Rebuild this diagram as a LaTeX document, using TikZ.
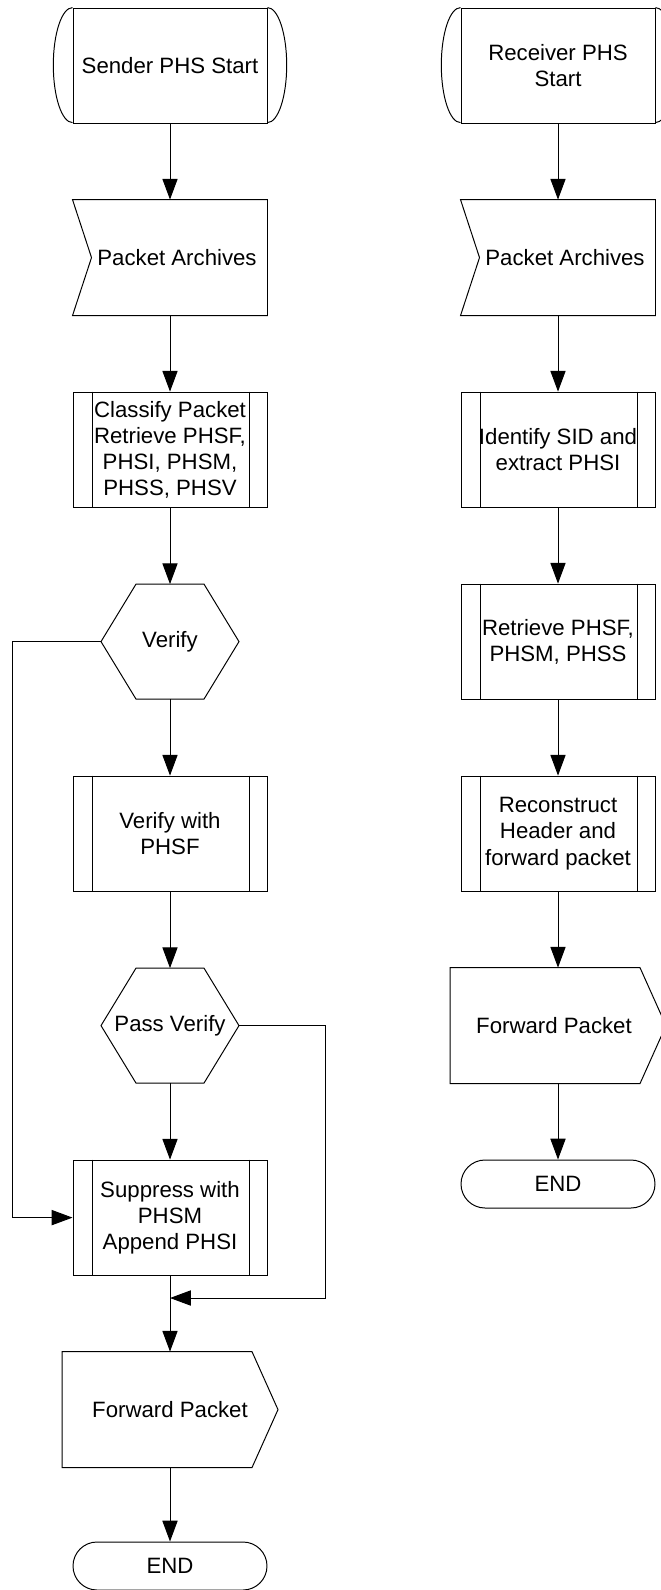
\documentclass[tikz,border=0pt]{standalone}
\usepackage{fontspec}
\setmainfont{Liberation Sans}
\usetikzlibrary{arrows.meta}

\begin{document}
\begin{tikzpicture}[
  line width=0.7pt,
  every node/.style={font=\fontsize{15.8}{18.6}\selectfont, align=center, inner sep=0pt},
  proc/.style={draw, minimum width=4.85cm, minimum height=2.875cm},
  plain/.style={minimum width=4.85cm, minimum height=2.875cm},
  hexa/.style={minimum width=3.425cm, minimum height=2.85cm},
  fwdbox/.style={minimum width=5.375cm, minimum height=2.875cm},
  stopbox/.style={draw, rounded corners=0.6cm, minimum width=4.85cm, minimum height=1.2cm},
  arr/.style={-{Triangle[length=0.52cm,width=0.38cm]}}
]
\useasboundingbox (0,0) rectangle (16.5,-39.75);

% Sender side
\node[proc] (sst) at (4.25,-1.64) {Sender PHS Start};
\node[plain] (spa) at (4.25,-6.44) {\hspace*{0.35cm}Packet Archives};
\node[proc] (cls) at (4.25,-11.24) {Classify Packet\\Retrieve PHSF,\\PHSI, PHSM,\\PHSS, PHSV};
\node[hexa] (ver) at (4.25,-16.04) {Verify};
\node[proc] (vph) at (4.25,-20.84) {Verify with\\PHSF};
\node[hexa] (pas) at (4.25,-25.64) {Pass Verify};
\node[proc] (sup) at (4.25,-30.44) {Suppress with\\PHSM\\Append PHSI};
\node[fwdbox] (sfw) at (4.25,-35.24) {Forward Packet};
\node[stopbox] (send) at (4.25,-39.15) {END};

% Receiver side
\node[proc] (rst) at (13.95,-1.64) {Receiver PHS\\Start};
\node[plain] (rpa) at (13.95,-6.44) {\hspace*{0.35cm}Packet Archives};
\node[proc] (ids) at (13.95,-11.24) {Identify SID and\\extract PHSI};
\node[proc] (ret) at (13.95,-16.04) {Retrieve PHSF,\\PHSM, PHSS};
\node[proc] (rec) at (13.95,-20.84) {Reconstruct\\Header and\\forward packet};
\node[fwdbox] (rfw) at (13.95,-25.64) {Forward Packet\hspace*{0.2cm}};
\node[stopbox] (rend) at (13.95,-29.6) {END};

% start terminals
\foreach \n in {sst,rst}{
  \draw (\n.north west) arc[start angle=90, end angle=270, x radius=0.48cm, y radius=1.4375cm];
  \draw (\n.north east) arc[start angle=90, end angle=-90, x radius=0.48cm, y radius=1.4375cm];
}

% archives
\foreach \n in {spa,rpa}{
  \draw (\n.north west) -- (\n.north east) -- (\n.south east) -- (\n.south west) -- ([xshift=0.475cm]\n.west) -- cycle;
}

% predefined process bars
\foreach \n in {cls,vph,sup,ids,ret,rec}{
  \draw ([xshift=0.5cm]\n.north west) -- ([xshift=0.5cm]\n.south west);
  \draw ([xshift=-0.45cm]\n.north east) -- ([xshift=-0.45cm]\n.south east);
}

% decisions
\foreach \n in {ver,pas}{
  \draw (\n.west) -- ([xshift=0.875cm]\n.north west) -- ([xshift=-0.875cm]\n.north east) -- (\n.east)
    -- ([xshift=-0.875cm]\n.south east) -- ([xshift=0.875cm]\n.south west) -- cycle;
}

% forward packet
\foreach \n in {sfw,rfw}{
  \draw (\n.north west) -- ([xshift=-0.65cm]\n.north east) -- (\n.east) -- ([xshift=-0.65cm]\n.south east) -- (\n.south west) -- cycle;
}

% arrows
\draw[arr] (sst) -- (spa);
\draw[arr] (spa) -- (cls);
\draw[arr] (cls) -- (ver);
\draw[arr] (ver) -- (vph);
\draw[arr] (vph) -- (pas);
\draw[arr] (pas) -- (sup);
\draw[arr] (sup) -- (sfw);
\draw[arr] (sfw) -- (send);

\draw[arr] (rst) -- (rpa);
\draw[arr] (rpa) -- (ids);
\draw[arr] (ids) -- (ret);
\draw[arr] (ret) -- (rec);
\draw[arr] (rec) -- (rfw);
\draw[arr] (rfw) -- (rend);

\coordinate (lft) at (0.3,-30.44);
\coordinate (rgt) at (8.125,-32.45);
\coordinate (mrg) at (4.25,-32.45);
\draw[arr] (ver.west) -| (lft) -- (sup.west);
\draw[arr] (pas.east) -| (rgt) -- (mrg);

\end{tikzpicture}
\end{document}
